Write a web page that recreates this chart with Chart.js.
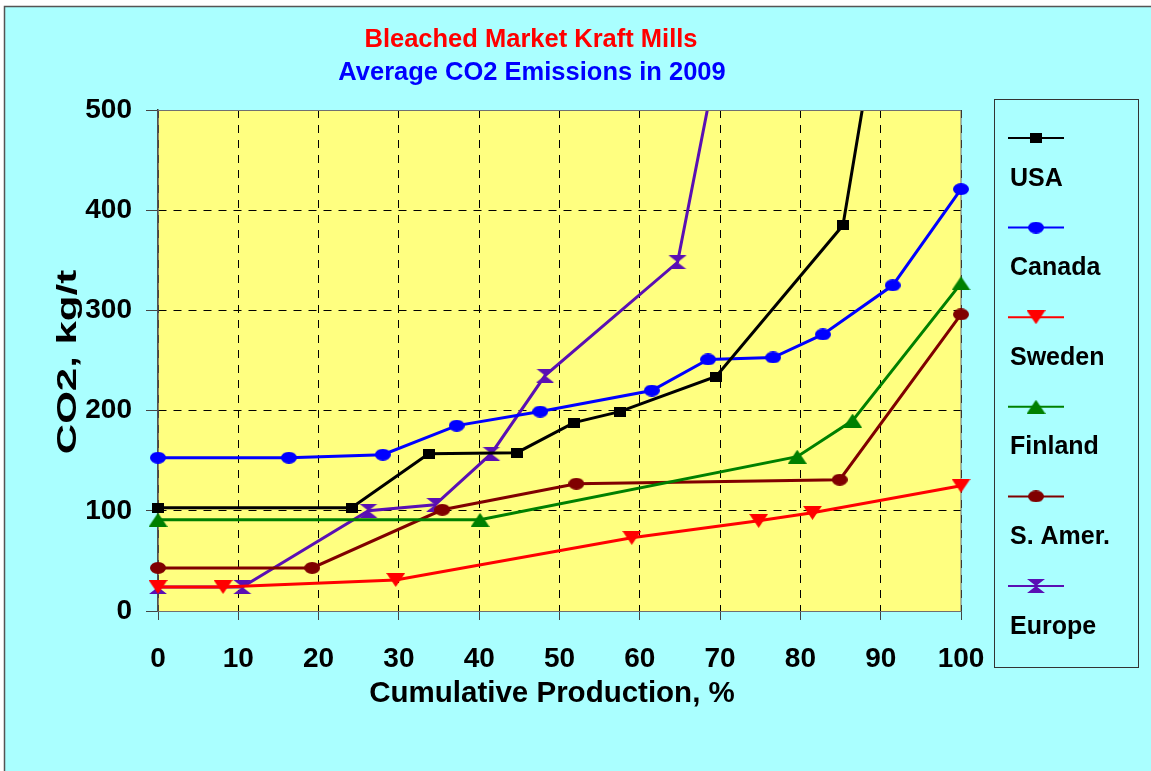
<!DOCTYPE html>
<html>
<head>
<meta charset="utf-8">
<script src="https://cdn.jsdelivr.net/npm/chart.js@4.4.0/dist/chart.umd.min.js"></script>
<style>
  html, body { margin: 0; padding: 0; background: #fff; }
  #wrap { width: 1151px; height: 771px; }
</style>
</head>
<body>
<div id="wrap"><canvas id="co2Chart" width="1151" height="771"></canvas></div>
<script>
// Curves: x = cumulative production %, y = CO2 kg/t
const seriesNames = ['USA', 'Canada', 'Sweden', 'Finland', 'S. Amer.', 'Europe'];

const usaX = [0, 24.1, 33.7, 44.7, 51.8, 57.5, 69.5, 85.3, 100];
const usaY = [103, 103, 157, 158, 188, 199, 234, 385, 1090];

const canadaX = [0, 16.3, 28.0, 37.2, 47.6, 61.5, 68.5, 76.6, 82.8, 91.5, 100];
const canadaY = [153, 153, 156, 185, 199, 220, 251, 253, 276, 325, 421];

const swedenX = [0, 8.1, 29.6, 59.0, 74.8, 81.5, 100];
const swedenY = [24, 24, 31, 73, 90, 98, 125];

const finlandX = [0, 40.1, 79.6, 86.5, 100];
const finlandY = [91, 91, 154, 190, 327];

const samerX = [0, 19.2, 35.4, 52.1, 84.9, 100];
const samerY = [43, 43, 101, 127, 131, 296];

const europeX = [0, 10.5, 26.2, 34.5, 41.5, 48.2, 64.7, 80];
const europeY = [24, 24, 100, 106, 157, 235, 348, 975];

const xTicks = [0, 10, 20, 30, 40, 50, 60, 70, 80, 90, 100];
const yTicks = [0, 100, 200, 300, 400, 500];

const FONT = "'Liberation Sans', Arial, sans-serif";

function toPoints(xs, ys) {
  return xs.map((x, i) => ({ x: x, y: ys[i] }));
}

// marker images, a bit wider than tall like in the original
function makeMarker(shape, color, w, h) {
  const c = document.createElement('canvas');
  c.width = w; c.height = h;
  const g = c.getContext('2d');
  g.fillStyle = color;
  g.beginPath();
  if (shape === 'ellipse') {
    g.ellipse(w / 2, h / 2, w / 2, h / 2, 0, 0, Math.PI * 2);
  } else if (shape === 'rect') {
    g.rect(0, 0, w, h);
  } else if (shape === 'up') {
    g.moveTo(w / 2, 0); g.lineTo(w, h); g.lineTo(0, h);
  } else if (shape === 'down') {
    g.moveTo(0, 0); g.lineTo(w, 0); g.lineTo(w / 2, h);
  } else if (shape === 'hourglass') {
    g.moveTo(1, 0); g.lineTo(w - 1, 0); g.lineTo(w / 2, h / 2); g.closePath();
    g.moveTo(1, h); g.lineTo(w - 1, h); g.lineTo(w / 2, h / 2);
  }
  g.closePath();
  g.fill();
  return c;
}

function series(label, xs, ys, color, marker) {
  return {
    label: label,
    data: toPoints(xs, ys),
    borderColor: color,
    backgroundColor: color,
    borderWidth: 3,
    tension: 0,
    pointStyle: marker,
    pointRadius: 8,
    pointBackgroundColor: color,
    pointBorderColor: color,
    pointBorderWidth: 0,
    // markers on the side edges stay whole, lines are cut at the top
    clip: { left: 14, right: 14, top: 0, bottom: 14 }
  };
}

// background, plot area fill, frame and all free text
const backdrop = {
  id: 'backdrop',
  beforeDraw(chart) {
    const { ctx, chartArea: a, width, height } = chart;
    ctx.save();
    ctx.fillStyle = '#ffffff';
    ctx.fillRect(0, 0, width, height);
    ctx.fillStyle = '#aaffff';
    ctx.fillRect(4, 6, width, height);
    ctx.strokeStyle = '#555';
    ctx.lineWidth = 1.5;
    ctx.beginPath();
    ctx.moveTo(4.5, height); ctx.lineTo(4.5, 6.5); ctx.lineTo(width, 6.5);
    ctx.stroke();
    ctx.fillStyle = '#ffff80';
    ctx.fillRect(a.left, a.top, a.right - a.left, a.bottom - a.top);
    ctx.restore();
  },
  beforeDatasetsDraw(chart) {
    const { ctx, chartArea: a } = chart;
    ctx.save();
    ctx.strokeStyle = '#707070';
    ctx.lineWidth = 1;
    ctx.strokeRect(a.left, a.top + 0.5, a.right - a.left, a.bottom - a.top);
    ctx.restore();
  },
  afterDraw(chart) {
    const { ctx, chartArea: a } = chart;
    ctx.save();
    ctx.strokeStyle = '#707070';
    ctx.lineWidth = 1;
    ctx.beginPath();
    ctx.moveTo(a.left, a.top + 0.5); ctx.lineTo(a.right, a.top + 0.5);
    ctx.stroke();
    // titles
    ctx.textAlign = 'center';
    ctx.textBaseline = 'alphabetic';
    ctx.font = 'bold 25.5px ' + FONT;
    ctx.fillStyle = '#ff0000';
    ctx.fillText('Bleached Market Kraft Mills', 531, 47);
    ctx.fillStyle = '#0000ff';
    ctx.fillText('Average CO2 Emissions in 2009', 532, 80);
    // axis titles
    ctx.fillStyle = '#000';
    ctx.font = 'bold 29.5px ' + FONT;
    ctx.fillText('Cumulative Production, %', 552, 702);
    ctx.translate(76, 362);
    ctx.rotate(-Math.PI / 2);
    ctx.scale(1.5, 1);
    ctx.font = 'bold 28px ' + FONT;
    ctx.fillText('CO2, kg/t', 0, 0);
    ctx.restore();
  }
};

// legend box on the right: line + marker above each name
const sideLegend = {
  id: 'sideLegend',
  afterDraw(chart) {
    const ctx = chart.ctx;
    ctx.save();
    ctx.strokeStyle = '#333';
    ctx.lineWidth = 1;
    ctx.strokeRect(994.5, 99.5, 144, 568);
    chart.data.datasets.forEach((ds, i) => {
      const y = 138 + i * 89.6;
      ctx.strokeStyle = ds.borderColor;
      ctx.lineWidth = 2;
      ctx.beginPath();
      ctx.moveTo(1008, y); ctx.lineTo(1064, y);
      ctx.stroke();
      const img = ds.pointStyle;
      ctx.drawImage(img, 1036 - img.width / 2, y - img.height / 2);
      ctx.fillStyle = '#000';
      ctx.font = 'bold 25px ' + FONT;
      ctx.textAlign = 'left';
      ctx.textBaseline = 'alphabetic';
      ctx.fillText(ds.label, 1010, y + 47.5);
    });
    ctx.restore();
  }
};

const ctx = document.getElementById('co2Chart').getContext('2d');
const co2Chart = new Chart(ctx, {
  type: 'line',
  data: {
    datasets: [
      series(seriesNames[0], usaX, usaY, '#000000', makeMarker('rect', '#000000', 12, 10)),
      series(seriesNames[1], canadaX, canadaY, '#0000ff', makeMarker('ellipse', '#0000ff', 16, 12)),
      series(seriesNames[2], swedenX, swedenY, '#ff0000', makeMarker('down', '#ff0000', 19, 14)),
      series(seriesNames[3], finlandX, finlandY, '#008000', makeMarker('up', '#008000', 19, 14)),
      series(seriesNames[4], samerX, samerY, '#800000', makeMarker('ellipse', '#800000', 16, 12)),
      series(seriesNames[5], europeX, europeY, '#5a0fb4', makeMarker('hourglass', '#5a0fb4', 20, 14))
    ]
  },
  options: {
    responsive: false,
    animation: false,
    layout: { padding: { top: 110, right: 190, left: 0, bottom: 0 } },
    plugins: {
      legend: { display: false },
      tooltip: { enabled: false }
    },
    scales: {
      x: {
        type: 'linear',
        min: 0,
        max: 100,
        afterBuildTicks(scale) { scale.ticks = xTicks.map(v => ({ value: v })); },
        ticks: { color: '#000', font: { family: FONT, size: 28, weight: 'bold' }, padding: 22, maxRotation: 0 },
        grid: { color: '#000', lineWidth: 1, tickLength: 9, tickColor: '#444', tickBorderDash: [] },
        border: { display: true, color: '#444', width: 1, dash: [8, 7] },
        afterFit(scale) { scale.height = 160; }
      },
      y: {
        min: 0,
        max: 500,
        afterBuildTicks(scale) { scale.ticks = yTicks.map(v => ({ value: v })); },
        ticks: { color: '#000', font: { family: FONT, size: 28, weight: 'bold' }, padding: 14 },
        grid: { color: '#000', lineWidth: 1, tickLength: 12, tickColor: '#444', tickBorderDash: [] },
        border: { display: true, color: '#333', width: 1.5, dash: [8, 7] },
        afterFit(scale) { scale.width = 158; }
      }
    }
  },
  plugins: [backdrop, sideLegend]
});
</script>
</body>
</html>
